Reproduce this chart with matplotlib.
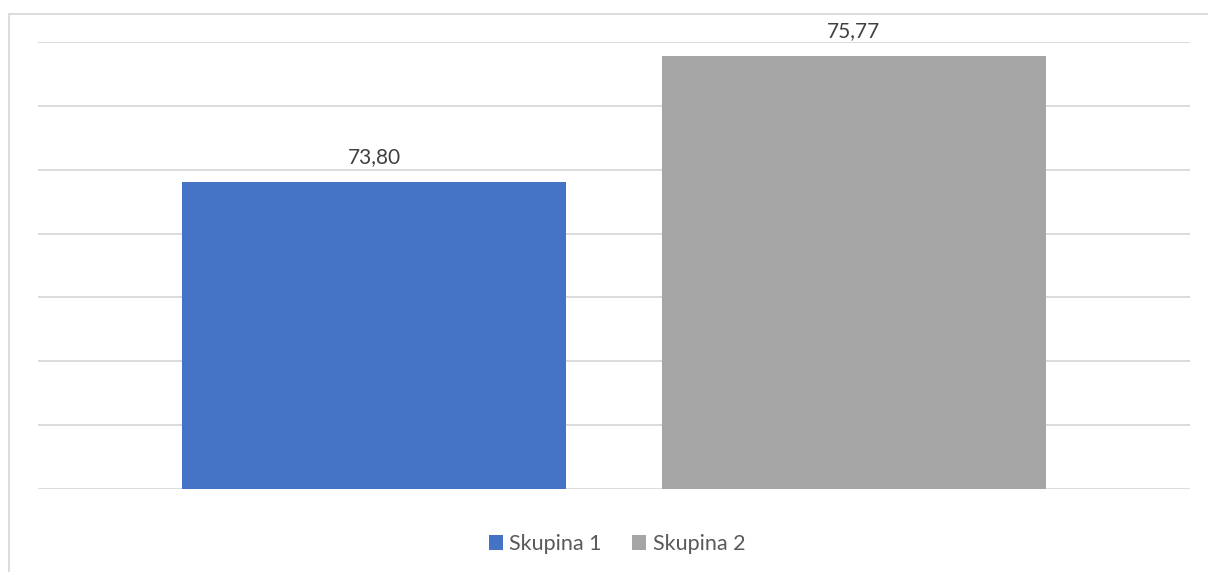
import matplotlib.pyplot as plt
from matplotlib.patches import Rectangle

skupine = ['Skupina 1', 'Skupina 2']
vrednosti = [73.80, 75.77]
oznake = ['73,80', '75,77']
barve = ['#4472C4', '#A5A5A5']

plt.rcParams['font.family'] = ['Lato', 'DejaVu Sans']

fig = plt.figure(figsize=(12.08, 5.72), dpi=100)
ax = fig.add_axes([38/1208, 1 - 489.3/572, (1190-38)/1208, (489.3-41.7)/572])

x = list(range(len(skupine)))
bars = ax.bar(x, [v - 69 for v in vrednosti], bottom=69, width=0.8, color=barve,
              label=skupine, zorder=3)
for xi, v, t in zip(x, vrednosti, oznake):
    ax.annotate(t, (xi, v), xytext=(0, 11), textcoords='offset points',
                ha='center', va='bottom', fontsize=15, color='#404040')

ax.set_ylim(69, 76)
ax.set_xlim(-0.7, 1.7)
ax.set_yticks(range(69, 77))
ax.yaxis.grid(True, color='#D9D9D9', linewidth=1.3, zorder=0)
ax.tick_params(left=False, bottom=False, labelleft=False, labelbottom=False)
for s in ax.spines.values():
    s.set_visible(False)

fig.legend(handles=bars, labels=skupine, loc='center', bbox_to_anchor=(617/1208, 1 - 544/572),
           ncol=2, frameon=False, fontsize=15.5, labelcolor='#595959',
           handlelength=0.65, handleheight=0.65, handletextpad=0.3, columnspacing=1.4)

# chart border
fig.patches.append(Rectangle((8.5/1208, -0.1), 1.2, 1 - 13.5/572 + 0.1,
                             transform=fig.transFigure, fill=False,
                             edgecolor='#D9D9D9', linewidth=1.3))

fig.savefig('out.png', dpi=100, facecolor='white')
